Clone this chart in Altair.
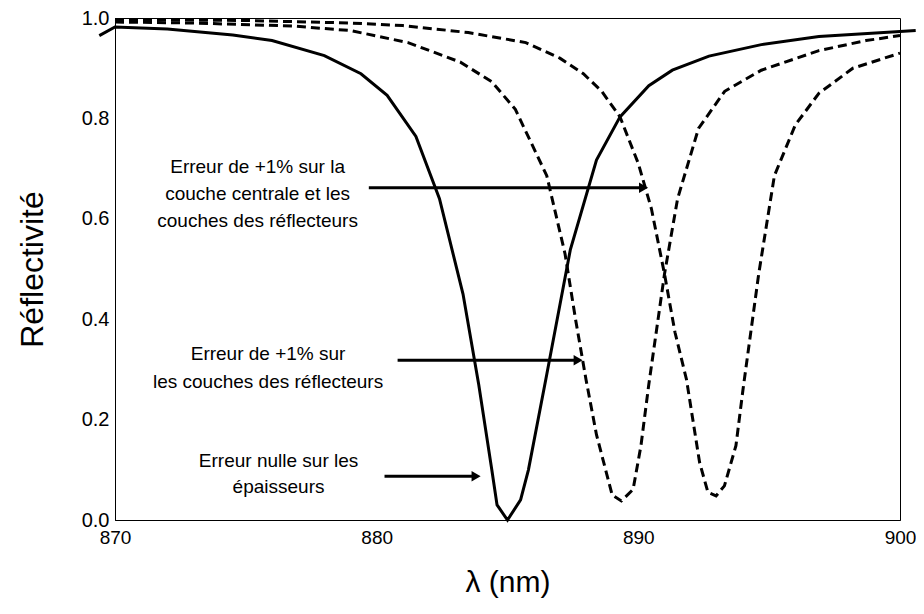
import altair as alt
import pandas as pd

# ---- data ----
# Erreur nulle sur les épaisseurs (solid)
nulle_x = [869.4, 870, 872, 874.5, 876, 878, 879.4, 880.4, 881.5, 882.4, 883.3, 883.9, 884.4, 884.6,
           885.0, 885.5, 885.8, 886.5, 887.4, 888.4, 889.3, 890.4, 891.3, 892.7, 894.7, 896.9, 900, 900.6]
nulle_y = [0.965, 0.982, 0.978, 0.966, 0.955, 0.925, 0.889, 0.846, 0.764, 0.64, 0.45, 0.27, 0.10, 0.03,
           0.0, 0.04, 0.10, 0.29, 0.538, 0.717, 0.803, 0.865, 0.896, 0.924, 0.947, 0.963, 0.973, 0.975]

# Erreur de +1% sur les couches des réflecteurs (dashed, min ~889.4)
refl_x = [870, 873, 876.8, 879, 881.2, 883.2, 884.4, 885.3, 886.5, 887.2, 887.6, 888.0, 888.4, 889.0,
          889.35, 889.8, 890.1, 890.4, 890.7, 891.0, 891.5, 892.3, 893.3, 894.7, 896.9, 898.7, 900]
refl_y = [0.992, 0.99, 0.984, 0.975, 0.951, 0.912, 0.873, 0.818, 0.686, 0.53, 0.40, 0.28, 0.17, 0.05,
          0.038, 0.061, 0.148, 0.27, 0.38, 0.49, 0.64, 0.78, 0.854, 0.896, 0.935, 0.955, 0.965]

# Erreur de +1% sur la couche centrale et les couches des réflecteurs (dashed, min ~892.9)
cent_x = [870, 875, 879, 881, 883.5, 885.7, 887, 887.9, 888.6, 889.3, 890, 890.5, 891, 891.4, 891.84,
          892.34, 892.66, 892.97, 893.29, 893.73, 894.0, 894.6, 895.2, 896, 896.9, 898.2, 900]
cent_y = [0.997, 0.995, 0.99, 0.985, 0.971, 0.951, 0.92, 0.889, 0.854, 0.803, 0.71, 0.62, 0.49, 0.374, 0.28,
          0.115, 0.055, 0.048, 0.068, 0.148, 0.26, 0.49, 0.686, 0.787, 0.85, 0.9, 0.93]

# annotations
arrow_x1 = [879.7, 880.8, 880.3]
arrow_x2 = [890.2, 887.7, 883.8]
arrow_y = [0.662, 0.318, 0.087]

label_lines = ["Erreur de +1% sur la", "couche centrale et les", "couches des réflecteurs",
               "Erreur de +1% sur", "les couches des réflecteurs",
               "Erreur nulle sur les", "épaisseurs"]
label_x = [875.45, 875.45, 875.45, 875.85, 875.85, 876.25, 876.25]
label_y = [0.704, 0.650, 0.595, 0.330, 0.275, 0.117, 0.065]

y_ticks = [0.0, 0.2, 0.4, 0.6, 0.8, 1.0]
x_ticks = [870, 880, 890, 900]

FONT = "Liberation Sans"

xs = alt.Scale(domain=[870, 900], nice=False, zero=False)
ys = alt.Scale(domain=[0, 1], nice=False, zero=False)

x_axis = alt.Axis(values=x_ticks, format="d", title="λ (nm)", labelFontSize=19, labelFont=FONT,
                  labelPadding=8, ticks=False, grid=False, domainColor="black", labelColor="black",
                  titleFont=FONT, titleFontSize=30, titleFontWeight="normal", titlePadding=20,
                  titleColor="black", labelFlush=False)
y_axis = alt.Axis(values=y_ticks, format=".1f", title="Réflectivité", labelFontSize=20, labelFont=FONT,
                  labelPadding=6, ticks=False, grid=False, domainColor="black", labelColor="black",
                  titleFont=FONT, titleFontSize=32, titleFontWeight="normal", titlePadding=32,
                  titleColor="black", labelFlush=False)

df_n = pd.DataFrame({"x": nulle_x, "y": nulle_y})
df_r = pd.DataFrame({"x": refl_x, "y": refl_y})
df_c = pd.DataFrame({"x": cent_x, "y": cent_y})
df_a = pd.DataFrame({"x1": arrow_x1, "x2": arrow_x2, "y": arrow_y})
df_t = pd.DataFrame({"t": label_lines, "x": label_x, "y": label_y})

solid = alt.Chart(df_n).mark_line(color="black", strokeWidth=3).encode(
    x=alt.X("x:Q", scale=xs, axis=x_axis),
    y=alt.Y("y:Q", scale=ys, axis=y_axis),
    order="x:Q",
)
dash_r = alt.Chart(df_r).mark_line(color="black", strokeWidth=3, strokeDash=[9, 5]).encode(
    x=alt.X("x:Q", scale=xs), y=alt.Y("y:Q", scale=ys), order="x:Q")
dash_c = alt.Chart(df_c).mark_line(color="black", strokeWidth=3, strokeDash=[9, 5]).encode(
    x=alt.X("x:Q", scale=xs), y=alt.Y("y:Q", scale=ys), order="x:Q")

shafts = alt.Chart(df_a).mark_rule(color="black", strokeWidth=3).encode(
    x=alt.X("x1:Q", scale=xs), x2="x2:Q", y=alt.Y("y:Q", scale=ys))
heads = alt.Chart(df_a).mark_point(shape="triangle-right", filled=True, color="black", size=110,
                                   opacity=1).encode(
    x=alt.X("x2:Q", scale=xs), y=alt.Y("y:Q", scale=ys))

texts = alt.Chart(df_t).mark_text(font=FONT, fontSize=19, color="black", align="center",
                                  baseline="middle").encode(
    x=alt.X("x:Q", scale=xs), y=alt.Y("y:Q", scale=ys), text="t:N")

chart = alt.layer(solid, dash_r, dash_c, shafts, heads, texts).properties(
    width=785, height=502,
    autosize=alt.AutoSizeParams(type="none"),
    padding={"left": 107, "top": 10, "right": 16, "bottom": 81},
    background="white",
).configure_view(stroke="black", strokeWidth=1)

chart.save("out.html", embed_options={"renderer": "svg", "actions": False})
